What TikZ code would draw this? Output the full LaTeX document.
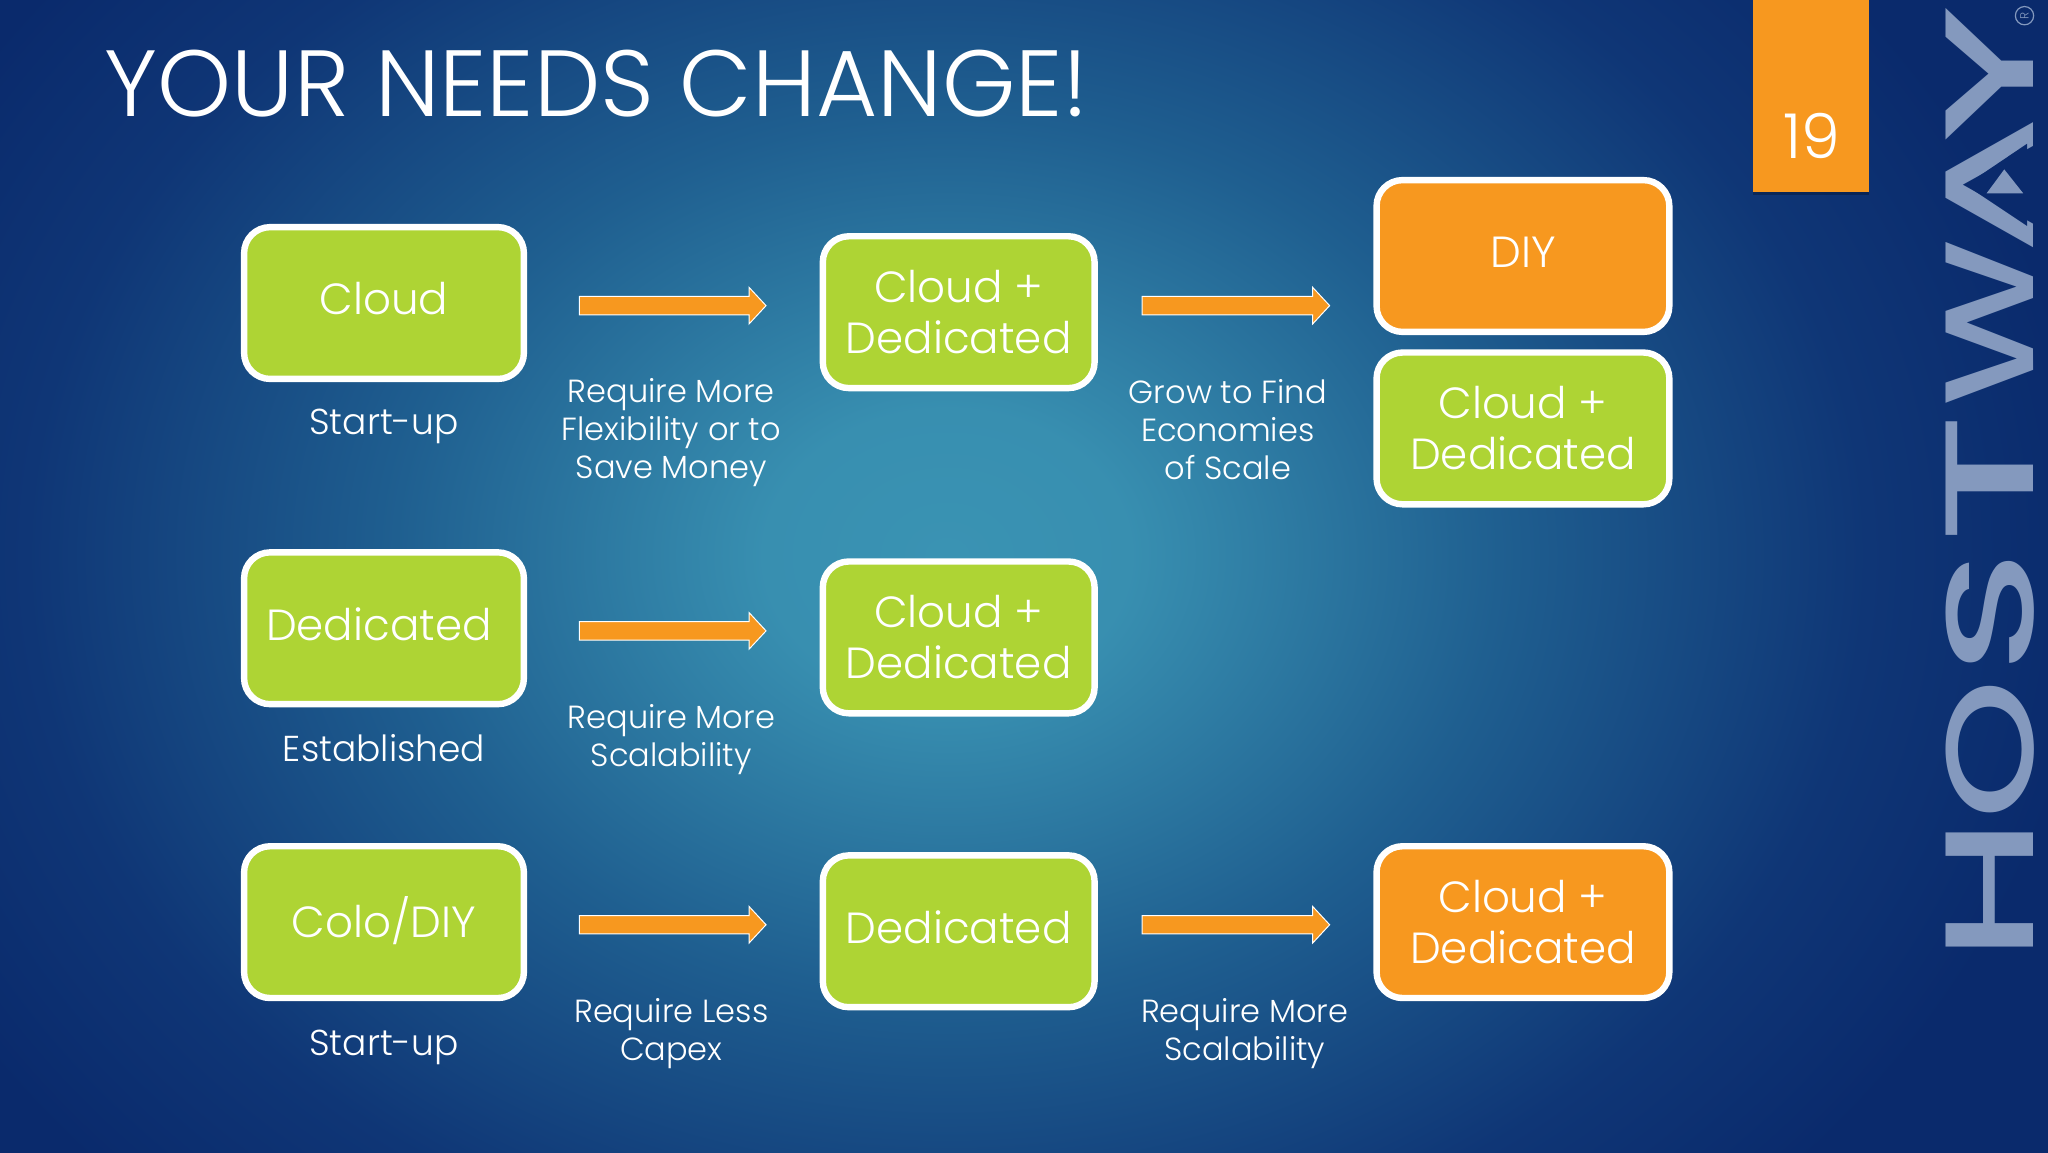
\documentclass[tikz,border=0pt]{standalone}
\usepackage{fontspec}
\usepackage{graphicx}
\setmainfont{Poppins}[UprightFont=* Light]
\newfontfamily\logofont{Poppins}[UprightFont=* Medium]
\usetikzlibrary{calc,positioning,shadows}
\definecolor{limeg}{HTML}{AED434}
\definecolor{orng}{HTML}{F7981F}
\definecolor{logoc}{HTML}{8499BE}
\definecolor{bgout}{HTML}{0A2A6C}
\definecolor{bgmid}{HTML}{1F5F90}
\definecolor{bgdark}{HTML}{0F3676}
\definecolor{bgin}{HTML}{3A93B3}
\pgfdeclareradialshading{slidebg}{\pgfpoint{0bp}{0bp}}{
 color(0bp)=(bgin); color(4bp)=(bgin!92!bgmid); color(12bp)=(bgmid); color(20bp)=(bgdark); color(25bp)=(bgout); color(50bp)=(bgout)}
\tikzset{
 box/.style={draw=white,line width=3.2pt,rounded corners=13pt,text=white,align=center,inner sep=0pt,font=\fontsize{21.8}{25.5}\selectfont},
 greenbox/.style={box,fill=limeg},
 orangebox/.style={box,fill=orng},
 lbl/.style={text=white,align=center,inner sep=0pt,font=\fontsize{16}{19}\selectfont},
 stage/.style={text=white,anchor=base,inner sep=0pt,font=\fontsize{18}{22}\selectfont},
 blockarrow/.style={draw=white,line width=.5pt,fill=orng,to path={
   ($(\tikztostart)+(0,7)$) -- ($(\tikztotarget)+(-13,7)$) -- ($(\tikztotarget)+(-13,14)$) -- (\tikztotarget)
   -- ($(\tikztotarget)+(-13,-14)$) -- ($(\tikztotarget)+(-13,-7)$) -- ($(\tikztostart)+(0,-7)$) -- cycle}}
}
\newcommand{\upt}[2][4.2pt]{\raisebox{#1}{#2}}
\newcommand{\logoL}[2]{\resizebox{#1\dimexpr0.65306pt\relax}{43.75pt}{#2}}
\newcommand{\logoK}[1]{\kern#1\dimexpr0.65306pt\relax}
\begin{document}
\begin{tikzpicture}[x=0.65306pt,y=-0.65306pt]
\useasboundingbox (0,0) rectangle (1568,882);
\fill[bgout] (-10,-10) rectangle (1578,892);
\begin{scope}
\clip (-10,-10) rectangle (1578,892);
\shade[shading=slidebg] (725,425) ellipse (880 and 700);
\end{scope}
\node[text=white,anchor=west,inner sep=0pt,font=\fontsize{47}{50}\selectfont] (title) at (80,64) {YOUR NEEDS CHANGE!};

\node[greenbox,minimum width=139.9pt,minimum height=75.9pt] (b1) at (294,232) {\upt{Cloud}};
\node[greenbox,minimum width=135.9pt,minimum height=75.9pt] (b2) at (734,239) {Cloud +\\Dedicated};
\node[orangebox,minimum width=146.4pt,minimum height=75.9pt] (b3) at (1166,196) {\upt[3.3pt]{DIY}};
\node[greenbox,minimum width=146.4pt,minimum height=75.9pt] (b4) at (1166,328) {Cloud +\\Dedicated};
\node[greenbox,minimum width=139.9pt,minimum height=75.9pt] (b5) at (294,481) {\hspace*{-5.2pt}\upt{Dedicated}};
\node[greenbox,minimum width=135.9pt,minimum height=75.9pt] (b6) at (734,488) {Cloud +\\Dedicated};
\node[greenbox,minimum width=139.9pt,minimum height=75.9pt] (b7) at (294,706) {\upt[5.6pt]{Colo/DIY}};
\node[greenbox,minimum width=135.9pt,minimum height=75.9pt] (b8) at (734,713) {\upt{Dedicated}};
\node[orangebox,minimum width=146.4pt,minimum height=75.9pt] (b9) at (1166,706) {Cloud +\\Dedicated};

\node[stage] (s1) at (294,333) {Start-up};
\node[stage] (s2) at (294,583) {Established};
\node[stage] (s3) at (294,808) {Start-up};

\node[lbl] (l1) at (514,331) {Require More\\Flexibility or to\\Save Money};
\node[lbl] (l2) at (940,329) {Grow to Find\\Economies\\of Scale};
\node[lbl] (l3) at (514,566) {Require More\\Scalability};
\node[lbl] (l4) at (514,791) {Require Less\\Capex};
\node[lbl] (l5) at (953,791) {Require More\\Scalability};

\coordinate (a1s) at ($(b1.east)+(40,2)$);
\coordinate (a1e) at ($(b2.west)+(-41,-5)$);
\coordinate (a2s) at ($(b2.east)+(34,-5)$);
\coordinate (a2e) at (1018,234);
\coordinate (a3s) at ($(b5.east)+(40,2)$);
\coordinate (a3e) at ($(b6.west)+(-41,-5)$);
\coordinate (a4s) at ($(b7.east)+(40,2)$);
\coordinate (a4e) at ($(b8.west)+(-41,-5)$);
\coordinate (a5s) at ($(b8.east)+(34,-5)$);
\coordinate (a5e) at (1018,708);
\path[blockarrow] (a1s) to (a1e);
\path[blockarrow] (a2s) to (a2e);
\path[blockarrow] (a3s) to (a3e);
\path[blockarrow] (a4s) to (a4e);
\path[blockarrow] (a5s) to (a5e);

\fill[black,opacity=.25] (1342,0) rectangle (1431,149);
\fill[orng] (1342,-10) rectangle (1431,147);
\node[text=white,inner sep=0pt,font=\fontsize{31}{34}\selectfont] (num) at (1387,104) {19};

\node[rotate=90,inner sep=0pt,text=logoc,font=\logofont] (logo) at (1523.5,370.5) {\logoL{111}{H}\logoK{-1.5}\logoL{107}{O}\logoK{3.5}\logoL{97}{S}\logoK{3}\logoL{101}{T}\logoK{4.5}\logoL{128}{W}\logoK{-11.5}\logoL{106}{A}\logoK{-21}\logoL{106}{Y}};
\fill[bgout] (1505,141.7) -- (1552,110) -- (1552,173) -- cycle;
\fill[logoc] (1534.5,129.7) -- (1549,148) -- (1521,148) -- cycle;
\draw[logoc,line width=.6pt] (1550,12) circle (7);
\node[rotate=90,inner sep=0pt,text=logoc,font=\fontsize{6}{6}\selectfont] (reg) at (1550,12) {R};
\end{tikzpicture}
\end{document}
